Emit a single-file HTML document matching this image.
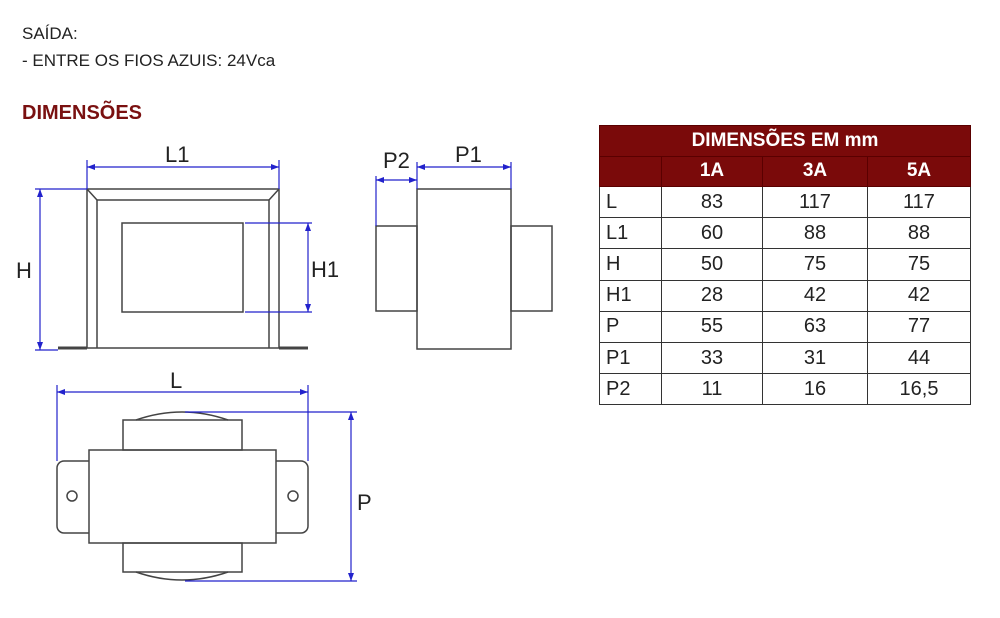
<!DOCTYPE html>
<html><head><meta charset="utf-8"><style>
body{margin:0;width:1000px;height:618px;background:#fff;overflow:hidden;position:relative;font-family:"Liberation Sans",sans-serif}
.t{position:absolute;left:22px;font-family:"Liberation Sans",sans-serif;color:#222;font-size:17px}
table{position:absolute;left:599px;top:125px;width:372px;border-collapse:collapse;font-family:"Liberation Sans",sans-serif;font-size:20px;color:#222}
td{border:1.5px solid #333;height:30.2px;padding:0;text-align:center}
td:first-child{text-align:left;padding-left:6px;width:55px}
tr.h td{background:#7a0a0a;color:#fff;font-weight:bold;font-size:19px;border-color:#5a0000;height:29.5px}
</style></head><body>
<div class="t" style="top:24px">SAÍDA:</div>
<div class="t" style="top:51px">- ENTRE OS FIOS AZUIS: 24Vca</div>
<div class="t" style="top:102px;font-size:20px;font-weight:bold;color:#7a1010">DIMENSÕES</div>
<svg width="1000" height="618" style="position:absolute;left:0;top:0" font-family="Liberation Sans, sans-serif">
<g fill="none" stroke="#444" stroke-width="1.5">
<rect x="87" y="189" width="192" height="159"/>
<polyline points="97,348 97,200 269,200 269,348"/>
<line x1="87" y1="189" x2="97" y2="200"/><line x1="279" y1="189" x2="269" y2="200"/>
<rect x="122" y="223" width="121" height="89"/>
<line x1="58" y1="348" x2="87" y2="348" stroke-width="3"/><line x1="279" y1="348" x2="308" y2="348" stroke-width="3"/>
<rect x="417" y="189" width="94" height="160"/>
<rect x="376" y="226" width="41" height="85"/><rect x="511" y="226" width="41" height="85"/>
<rect x="89" y="450" width="187" height="93"/>
<path d="M89,461 H64 a7,7 0 0 0 -7,7 V526 a7,7 0 0 0 7,7 H89"/>
<path d="M276,461 H301 a7,7 0 0 1 7,7 V526 a7,7 0 0 1 -7,7 H276"/>
<circle cx="72" cy="496" r="5"/><circle cx="293" cy="496" r="5"/>
<rect x="123" y="420" width="119" height="30"/><rect x="123" y="543" width="119" height="29"/>
<path d="M136,420 Q182,404 228,420"/><path d="M136,572 Q182,588 228,572"/>
</g>
<g stroke="#2222cc" stroke-width="1.2" fill="none">
<line x1="87" y1="167" x2="279" y2="167"/><line x1="87" y1="160" x2="87" y2="189"/><line x1="279" y1="160" x2="279" y2="189"/>
<line x1="40" y1="189" x2="40" y2="350"/><line x1="35" y1="189" x2="87" y2="189"/><line x1="35" y1="350" x2="58" y2="350"/>
<line x1="308" y1="223" x2="308" y2="312"/><line x1="245" y1="223" x2="312" y2="223"/><line x1="245" y1="312" x2="312" y2="312"/>
<line x1="376" y1="180" x2="417" y2="180"/><line x1="376" y1="176" x2="376" y2="226"/>
<line x1="417" y1="167" x2="511" y2="167"/><line x1="417" y1="162" x2="417" y2="189"/><line x1="511" y1="162" x2="511" y2="189"/>
<line x1="57" y1="392" x2="308" y2="392"/><line x1="57" y1="385" x2="57" y2="461"/><line x1="308" y1="385" x2="308" y2="461"/>
<line x1="351" y1="412" x2="351" y2="581"/><line x1="185" y1="412" x2="357" y2="412"/><line x1="185" y1="581" x2="357" y2="581"/>
</g>
<g fill="#2222cc">
<path d="M87,167 l8,-3 v6z"/><path d="M279,167 l-8,-3 v6z"/>
<path d="M40,189 l-3,8 h6z"/><path d="M40,350 l-3,-8 h6z"/>
<path d="M308,223 l-3,8 h6z"/><path d="M308,312 l-3,-8 h6z"/>
<path d="M376,180 l8,-3 v6z"/><path d="M417,180 l-8,-3 v6z"/>
<path d="M417,167 l8,-3 v6z"/><path d="M511,167 l-8,-3 v6z"/>
<path d="M57,392 l8,-3 v6z"/><path d="M308,392 l-8,-3 v6z"/>
<path d="M351,412 l-3,8 h6z"/><path d="M351,581 l-3,-8 h6z"/>
</g>
<g font-size="22" fill="#222">
<text x="165" y="162">L1</text><text x="16" y="278">H</text><text x="311" y="277">H1</text>
<text x="383" y="168">P2</text><text x="455" y="162">P1</text>
<text x="170" y="388">L</text><text x="357" y="510">P</text>
</g>
</svg>
<table>
<tr class="h"><td colspan="4" style="text-align:center;padding:0">DIMENSÕES EM mm</td></tr>
<tr class="h"><td></td><td style="width:100px">1A</td><td style="width:104px">3A</td><td>5A</td></tr>
<tr><td>L</td><td>83</td><td>117</td><td>117</td></tr>
<tr><td>L1</td><td>60</td><td>88</td><td>88</td></tr>
<tr><td>H</td><td>50</td><td>75</td><td>75</td></tr>
<tr><td>H1</td><td>28</td><td>42</td><td>42</td></tr>
<tr><td>P</td><td>55</td><td>63</td><td>77</td></tr>
<tr><td>P1</td><td>33</td><td>31</td><td>44</td></tr>
<tr><td>P2</td><td>11</td><td>16</td><td>16,5</td></tr>
</table>
</body></html>
